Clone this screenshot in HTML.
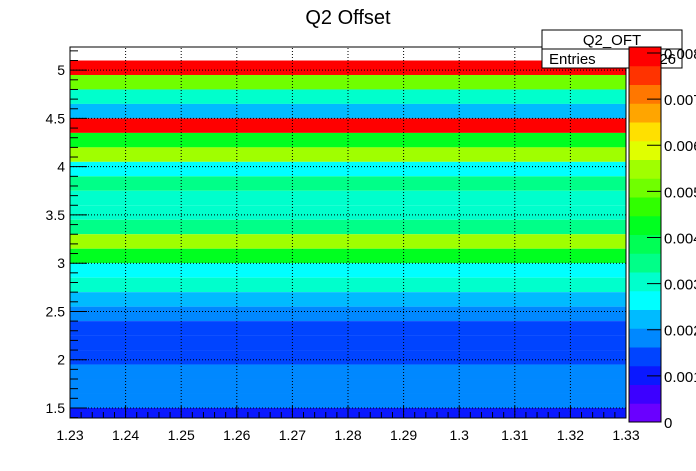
<!DOCTYPE html>
<html><head><meta charset="utf-8"><style>
body{margin:0;background:#fff}
svg{display:block;font-family:"Liberation Sans",Arial,sans-serif}
</style></head><body>
<svg id="c" width="696" height="471" viewBox="0 0 696 471">
<rect width="696" height="471" fill="#fff"/>
<text x="348" y="24" font-size="20" text-anchor="middle">Q2 Offset</text>
<g id="cells"></g><g id="grid"></g><g id="axes"></g>
<g>
<rect x="542" y="30" width="140" height="38" fill="#fff" stroke="#000"/>
<line x1="542" y1="49" x2="682" y2="49" stroke="#000"/>
<text x="612" y="45" font-size="15" text-anchor="middle">Q2_OFT</text>
<text x="549" y="64" font-size="15">Entries</text>
<text x="676" y="64" font-size="15" text-anchor="end">26</text>
</g>
<g id="pal"></g>
</svg>
<script>
const yBinTops=[5.1,4.95,4.8,4.65,4.5,4.35,4.2,4.05,3.9,3.75,3.6,3.45,3.3,3.15,3.0,2.85,2.7,2.55,2.4,2.25,2.1,1.95,1.8,1.65,1.5];
const binValues=[0.00793,0.00508,0.00305,0.00224,0.00793,0.00427,0.00549,0.00264,0.00346,0.00305,0.00305,0.00346,0.00549,0.00427,0.00264,0.00305,0.00224,0.00183,0.00142,0.00142,0.00142,0.00183,0.00183,0.00183,0.00102];
const xTicks=[1.23,1.24,1.25,1.26,1.27,1.28,1.29,1.30,1.31,1.32,1.33];
const xTickLabels=["1.23","1.24","1.25","1.26","1.27","1.28","1.29","1.3","1.31","1.32","1.33"];
const yTicks=[1.5,2,2.5,3,3.5,4,4.5,5];
const zTicks=[0,0.001,0.002,0.003,0.004,0.005,0.006,0.007,0.008];
const zTickLabels=["0","0.001","0.002","0.003","0.004","0.005","0.006","0.007","0.008"];
const palette=["#6a00ff","#3c00ff","#0a18ff","#0044ff","#0088ff","#00bbff","#00ffff","#00ffcc","#00ff88","#00ff55","#00ff20","#30ff00","#70ff00","#a0ff00","#e0ff00","#ffe000","#ffa500","#ff7700","#ff3300","#ff0000"];
const binW=0.15, X0=70,X1=626,Y0=418,Y1=47, xmin=1.23,xmax=1.33,ymin=1.396,ymax=5.24, zmax=0.00813;
const PX0=629,PX1=661,PY0=422,PY1=47;
const sx=v=>X0+(v-xmin)/(xmax-xmin)*(X1-X0);
const sy=v=>Y0-(v-ymin)/(ymax-ymin)*(Y0-Y1);
const sz=v=>PY0-v/zmax*(PY0-PY1);
const NS="http://www.w3.org/2000/svg";
function mk(p,t,a){const e=document.createElementNS(NS,t);for(const k in a)e.setAttribute(k,a[k]);p.appendChild(e);return e;}
const col=v=>palette[Math.max(0,Math.min(19,Math.floor(v/zmax*20)))];
const cells=document.getElementById('cells');
yBinTops.forEach((t,i)=>{const top=Math.min(t,ymax),bot=Math.max(t-binW,ymin);
const r=mk(cells,'rect',{x:X0,y:sy(top),width:X1-X0,height:sy(bot)-sy(top),fill:col(binValues[i])});

});
const g=document.getElementById('grid');
xTicks.forEach(v=>{const l=mk(g,'line',{x1:sx(v),x2:sx(v),y1:Y0,y2:Y1,stroke:'#000','stroke-dasharray':'1,2'});});
yTicks.forEach(v=>{const l=mk(g,'line',{x1:X0,x2:X1,y1:sy(v),y2:sy(v),stroke:'#000','stroke-dasharray':'1,2'});});
const a=document.getElementById('axes');
const fr=mk(a,'rect',{x:X0,y:Y1,width:X1-X0,height:Y0-Y1,fill:'none',stroke:'#000'});

for(let i=0;i<=50;i++){const v=xmin+i*0.002;const L=i%5==0?12:6;mk(a,'line',{x1:sx(v),x2:sx(v),y1:Y0,y2:Y0-L,stroke:'#000'});}
xTicks.forEach((v,i)=>{const t=mk(a,'text',{x:sx(v),y:440,'font-size':14,'text-anchor':'middle'});t.textContent=xTickLabels[i];});
for(let v=1.4;v<=5.24;v+=0.1){const maj=Math.abs(v*2-Math.round(v*2))<1e-6;mk(a,'line',{x1:X0,x2:X0+(maj?17:8),y1:sy(v),y2:sy(v),stroke:'#000'});}
yTicks.forEach(v=>{const t=mk(a,'text',{x:65,y:sy(v)+5,'font-size':14,'text-anchor':'end'});t.textContent=String(v);});
const p=document.getElementById('pal');
palette.forEach((c,i)=>{const r=mk(p,'rect',{x:PX0,y:sz((i+1)*zmax/20),width:PX1-PX0,height:(PY0-PY1)/20+0.5,fill:c});});
mk(p,'rect',{x:PX0,y:PY1,width:PX1-PX0,height:PY0-PY1,fill:'none',stroke:'#000'});
zTicks.forEach((v,i)=>{mk(p,'line',{x1:PX1-14,x2:PX1,y1:sz(v),y2:sz(v),stroke:'#000'});const t=mk(p,'text',{x:664,y:sz(v)+6,'font-size':15});t.textContent=zTickLabels[i];});
</script>
</body></html>
